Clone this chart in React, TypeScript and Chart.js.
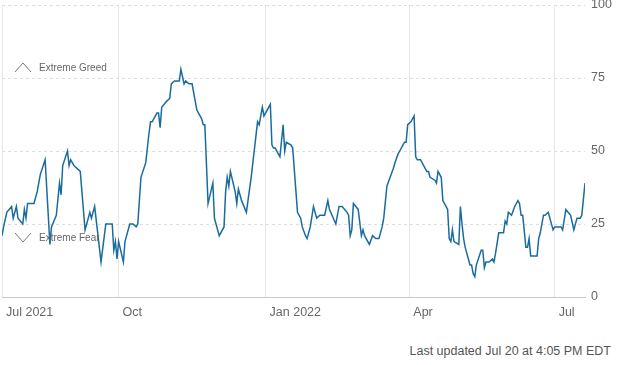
import React, { useEffect, useRef } from "react";
import { Chart, registerables } from "chart.js";

Chart.register(...registerables);

// Days since Jul 20, 2021
const days = [
  0, 1, 3, 6, 7, 9, 10, 13, 14, 15, 16, 20, 22, 24, 27, 30, 31, 34, 36, 37, 38, 41, 42, 43, 45, 49, 52, 55, 56, 58,
  62, 65, 69, 70, 71, 72, 73, 76, 77, 80, 82, 84, 85, 87, 90, 92, 93, 94, 97, 98, 99, 100, 103, 105, 106, 108, 111, 112, 114, 115,
  117, 119, 120, 122, 125, 126, 127, 129, 132, 133, 134, 136, 139, 140, 141, 142, 143, 146, 147, 148, 150, 153, 156, 160, 161, 163, 164, 168, 169, 170,
  171, 174, 176, 177, 178, 181, 182, 185, 187, 188, 190, 191, 193, 195, 197, 199, 202, 204, 205, 209, 211, 213, 216, 217, 218, 219, 220, 223, 225, 226,
  227, 230, 232, 234, 236, 238, 239, 241, 243, 245, 246, 248, 249, 251, 252, 253, 254, 256, 258, 259, 260, 262, 265, 266, 267, 268, 271, 272, 273, 275,
  276, 278, 279, 280, 281, 282, 283, 286, 287, 288, 289, 290, 293, 294, 295, 296, 297, 300, 301, 302, 303, 305, 307, 308, 309, 311, 314, 315, 316, 317,
  319, 321, 323, 324, 325, 326, 328, 329, 330, 331, 332, 335, 336, 337, 339, 340, 342, 343, 345, 346, 350, 351, 353, 356, 358, 360, 362, 363, 365,
];

const indexValues = [
  21, 24, 29, 31, 27, 31, 27, 25, 30, 27, 32, 32, 36, 42, 47, 18, 24, 28, 39, 35, 45, 50, 45, 47, 45, 43, 23, 29, 27, 31,
  12, 25, 25, 16, 19, 13, 19, 12, 19, 25, 25, 24, 25, 41, 46, 56, 60, 60, 63, 63, 58, 65, 67, 68, 73, 74, 74, 78, 73, 74,
  73, 73, 70, 64, 61, 59, 59, 32, 39, 27, 25, 21, 24, 36, 41, 38, 43, 36, 32, 37, 33, 29, 41, 60, 59, 65, 62, 66, 52, 51,
  51, 48, 59, 50, 53, 52, 51, 29, 27, 24, 21, 20, 24, 31, 27, 28, 28, 33, 30, 25, 31, 31, 29, 28, 21, 23, 32, 30, 21, 23,
  21, 18, 21, 20, 20, 24, 27, 38, 41, 44, 46, 49, 50, 52, 53, 53, 59, 60, 62, 48, 47, 47, 44, 43, 43, 41, 40, 39, 43, 41,
  33, 31, 30, 20, 19, 23, 19, 18, 31, 25, 20, 17, 11, 11, 8, 7, 11, 16, 16, 10, 12, 12, 13, 12, 15, 22, 22, 26, 25, 29,
  28, 31, 33, 32, 28, 28, 17, 17, 20, 14, 14, 14, 20, 22, 28, 28, 29, 27, 23, 24, 24, 23, 30, 28, 23, 27, 27, 28, 39,
];

const xTickDays = [0, 73, 165, 255, 346];
const xTickLabels = ["Jul 2021", "Oct", "Jan 2022", "Apr", "Jul"];
const yTickValues = [0, 25, 50, 75, 100];
const greedLabel = "Extreme Greed";
const fearLabel = "Extreme Fear";
const footerText = "Last updated Jul 20 at 4:05 PM EDT";

const FONT = "'Liberation Sans', Arial, sans-serif";

export default function App() {
  const ref = useRef<HTMLCanvasElement | null>(null);

  useEffect(() => {
    if (!ref.current) return;
    const points = days.map((d, i) => ({ x: d, y: indexValues[i] }));

    const annotationPlugin = {
      id: "zones",
      afterDatasetsDraw(chart: any) {
        const ctx = chart.ctx;
        const ys = chart.scales.y;
        const left = chart.chartArea.left;
        ctx.save();
        ctx.strokeStyle = "#777";
        ctx.lineWidth = 1;
        ctx.fillStyle = "#666";
        ctx.font = `10px ${FONT}`;
        ctx.textBaseline = "middle";
        ctx.textAlign = "left";
        // Greed
        const gy = ys.getPixelForValue(75) - 10.5;
        ctx.beginPath();
        ctx.moveTo(left + 13, gy + 4.5);
        ctx.lineTo(left + 21, gy - 4.5);
        ctx.lineTo(left + 29, gy + 4.5);
        ctx.stroke();
        ctx.fillText(greedLabel, left + 37, gy + 0.5);
        // Fear
        const fy = ys.getPixelForValue(25) + 13.5;
        ctx.beginPath();
        ctx.moveTo(left + 13, fy - 4.5);
        ctx.lineTo(left + 21, fy + 4.5);
        ctx.lineTo(left + 29, fy - 4.5);
        ctx.stroke();
        ctx.fillText(fearLabel, left + 37, fy + 0.5);
        ctx.restore();
      },
    };

    const chart = new Chart(ref.current, {
      type: "line",
      data: {
        datasets: [
          {
            data: points,
            borderColor: "#1a6c9e",
            borderWidth: 1.5,
            pointRadius: 0,
            tension: 0,
            fill: false,
          },
        ],
      },
      options: {
        animation: false,
        responsive: false,
        maintainAspectRatio: false,
        events: [],
        layout: { padding: { left: 2, top: 5, right: 0, bottom: 0 } },
        plugins: { legend: { display: false }, tooltip: { enabled: false } },
        scales: {
          x: {
            type: "linear",
            min: 0,
            max: 365,
            afterBuildTicks: (s: any) => {
              s.ticks = xTickDays.map((v) => ({ value: v }));
            },
            afterFit: (s: any) => {
              s.height = 33;
              s.paddingLeft = 0;
              s.paddingRight = 0;
            },
            grid: { color: "#e6e6e6", lineWidth: 1, drawTicks: false },
            border: { display: true, color: "#c8c8c8", width: 1 },
            ticks: {
              autoSkip: false,
              maxRotation: 0,
              align: "start",
              labelOffset: 4,
              padding: 8,
              color: "#666",
              font: { family: FONT, size: 12.5 },
              callback: (v: any) => {
                const i = xTickDays.indexOf(Number(v));
                return i >= 0 ? xTickLabels[i] : "";
              },
            },
          },
          y: {
            position: "right",
            min: 0,
            max: 100,
            afterBuildTicks: (s: any) => {
              s.ticks = yTickValues.map((v) => ({ value: v }));
            },
            afterFit: (s: any) => {
              s.width = 34;
              s.paddingTop = 0;
              s.paddingBottom = 0;
            },
            grid: {
              drawTicks: false,
              color: (c: any) => (c.tick && c.tick.value === 0 ? "#c8c8c8" : "#dedede"),
              lineWidth: 1,
            },
            border: {
              display: false,
              dash: (c: any) => (c.tick && c.tick.value === 0 ? [] : [3, 3]),
            },
            ticks: {
              padding: 6,
              color: "#666",
              font: { family: FONT, size: 12.5 },
              callback: (v: any) => String(v),
            },
          },
        },
      },
      plugins: [annotationPlugin],
    } as any);

    return () => chart.destroy();
  }, []);

  return (
    <div style={{ position: "fixed", left: 0, top: 0, width: 619, height: 365, background: "#fff" }}>
      <canvas ref={ref} width={619} height={330} style={{ display: "block", width: 619, height: 330 }} />
      <div
        style={{
          position: "absolute",
          right: 8,
          top: 344,
          fontFamily: FONT,
          fontSize: 12.5,
          lineHeight: "15px",
          color: "#555",
          whiteSpace: "nowrap",
        }}
      >
        {footerText}
      </div>
    </div>
  );
}
